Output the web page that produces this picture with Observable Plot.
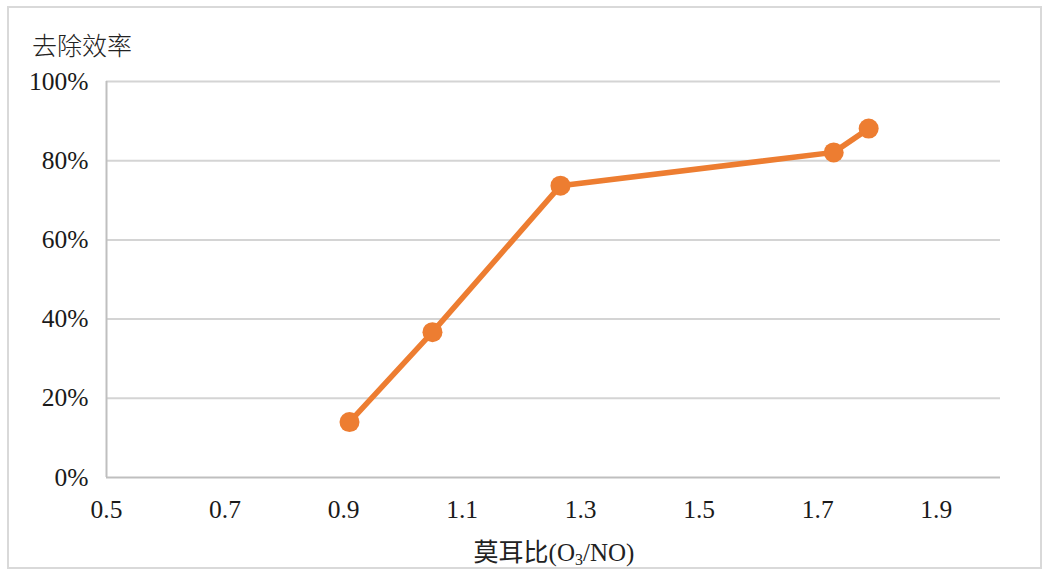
<!DOCTYPE html>
<html>
<head>
<meta charset="utf-8">
<script src="https://cdn.jsdelivr.net/npm/d3@7"></script>
<script src="https://cdn.jsdelivr.net/npm/@observablehq/plot@0.6"></script>
<style>
  html, body { margin: 0; padding: 0; background: #fff; }
  #wrap { position: relative; width: 1043px; height: 571px; overflow: hidden; }
  #border { position: absolute; left: 7px; top: 6px; width: 1031px; height: 559px; border: 2px solid #d9d9d9; pointer-events: none; }
  .lbl { position: absolute; font-family: "Liberation Serif", "Noto Sans CJK SC", serif; font-size: 25px; color: #222; white-space: nowrap; }
  #title { left: 32px; top: 26px; font-weight: 300; }
  #xlabel { left: 0; width: 1108px; top: 532px; text-align: center; }
  #xlabel sub { font-size: 16px; vertical-align: -4px; }
</style>
</head>
<body>
<div id="wrap">
  <div id="chart"></div>
  <div id="border"></div>
  <div id="title" class="lbl">去除效率</div>
  <div id="xlabel" class="lbl">莫耳比(O<sub>3</sub>/NO)</div>
</div>
<script>
const molarRatio = [0.91, 1.05, 1.266, 1.727, 1.786];
const removalEfficiency = [14.0, 36.7, 73.7, 82.1, 88.1];
const xTicks = [0.5, 0.7, 0.9, 1.1, 1.3, 1.5, 1.7, 1.9];
const yTicks = [0, 20, 40, 60, 80, 100];

const data = molarRatio.map((x, i) => ({x, y: removalEfficiency[i]}));
const orange = "#ED7D31";

const chart = Plot.plot({
  width: 1043,
  height: 571,
  marginLeft: 106,
  marginRight: 43,
  marginTop: 81,
  marginBottom: 94,
  style: {fontFamily: '"Liberation Serif", "Noto Sans CJK SC", serif', fontSize: "25.5px", color: "#1a1a1a", background: "transparent"},
  x: {domain: [0.5, 2.0], range: [106, 995]},
  y: {domain: [0, 100]},
  marks: [
    Plot.ruleY(yTicks.filter(d => d > 0), {stroke: "#d4d4d4", strokeWidth: 2}),
    Plot.ruleY([0], {stroke: "#bfbfbf", strokeWidth: 2}),
    Plot.ruleX([0.5], {y1: 0, y2: 100, stroke: "#bfbfbf", strokeWidth: 2}),
    Plot.axisX({ticks: xTicks, tickSize: 0, tickPadding: 22, tickFormat: d => d.toFixed(1), label: null}),
    Plot.axisY({ticks: yTicks, tickSize: 0, tickPadding: 18, tickFormat: d => d + "%", label: null}),
    Plot.line(data, {x: "x", y: "y", stroke: orange, strokeWidth: 5.5}),
    Plot.dot(data, {x: "x", y: "y", r: 10, fill: orange})
  ]
});
document.getElementById("chart").appendChild(chart);
</script>
</body>
</html>
